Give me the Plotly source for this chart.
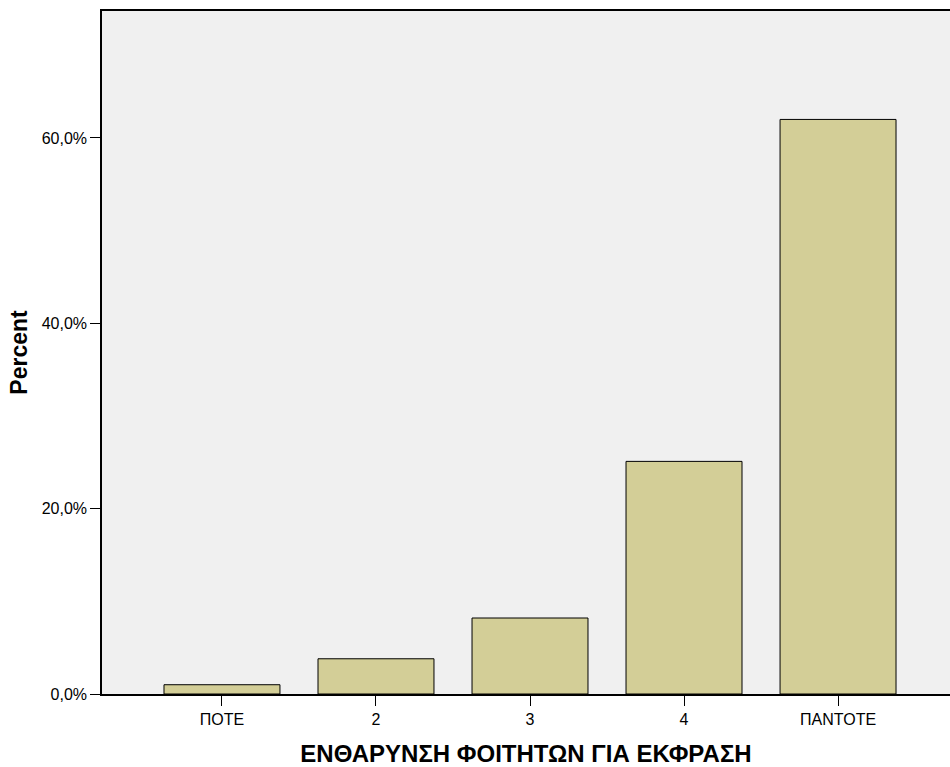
import plotly.graph_objects as go

categories = ["ΠΟΤΕ", "2", "3", "4", "ΠΑΝΤΟΤΕ"]
percent = [1.0, 3.8, 8.2, 25.1, 62.0]
y_ticks = [0, 20, 40, 60]
y_tick_labels = ["0,0%", "20,0%", "40,0%", "60,0%"]

fig = go.Figure(
    go.Bar(
        x=categories,
        y=percent,
        width=0.753,
        marker=dict(color="#d3ce97", line=dict(color="#000000", width=1)),
        showlegend=False,
    )
)

fig.update_layout(
    width=950,
    height=767,
    margin=dict(l=102, r=0, t=11, b=73),
    paper_bgcolor="white",
    plot_bgcolor="#f0f0f0",
    font=dict(family="Liberation Sans, Arial, sans-serif", size=14, color="#000000"),
)
fig.update_xaxes(
    range=[-0.779, 4.727],
    showline=True,
    linecolor="#000000",
    linewidth=1.5,
    mirror=True,
    ticks="outside",
    ticklen=10,
    tickcolor="#000000",
    tickfont=dict(size=16),
    showgrid=False,
    title=dict(text="<b>ΕΝΘΑΡΥΝΣΗ ΦΟΙΤΗΤΩΝ ΓΙΑ ΕΚΦΡΑΣΗ</b>", font=dict(size=24), standoff=19),
)
fig.update_yaxes(
    range=[0, 73.7],
    tickvals=y_ticks,
    ticktext=y_tick_labels,
    tickfont=dict(size=16),
    showline=True,
    linecolor="#000000",
    linewidth=1.5,
    ticks="outside",
    ticklen=10,
    tickcolor="#000000",
    showgrid=False,
    zeroline=False,
    title=dict(text="<b>Percent</b>", font=dict(size=23), standoff=8),
)

# drop the default page margin so the figure fills the window exactly
fig.write_html(
    "out.html",
    config={"displayModeBar": False},
    post_script="document.body.style.margin='0';",
)
